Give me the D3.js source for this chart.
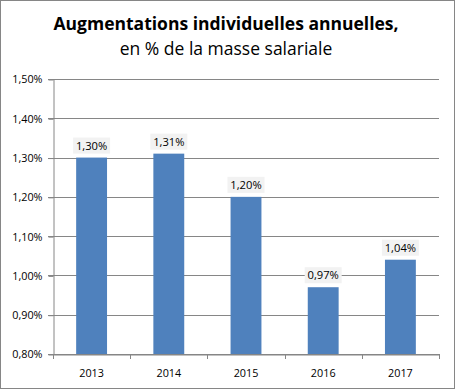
<!DOCTYPE html>
<html>
<head>
<meta charset="utf-8">
<script src="https://cdn.jsdelivr.net/npm/d3@7"></script>
<style>
  body { margin: 0; background: #fff; }
  svg { display: block; font-family: "Open Sans", "DejaVu Sans", sans-serif; }
</style>
</head>
<body>
<div id="chart"></div>
<script>
// chart data
const years = ["2013", "2014", "2015", "2016", "2017"];
const values = [1.30, 1.31, 1.20, 0.97, 1.04];
const yTicks = [0.80, 0.90, 1.00, 1.10, 1.20, 1.30, 1.40, 1.50];
const titleLines = ["Augmentations individuelles annuelles,", "en % de la masse salariale"];

const width = 455, height = 389;
const plot = { left: 53, right: 439, top: 79, bottom: 354 };

const fmt = v => v.toFixed(2).replace(".", ",") + "%";

const svg = d3.select("#chart").append("svg")
  .attr("width", width)
  .attr("height", height);

// outer frame
svg.append("rect")
  .attr("x", 0.5).attr("y", 0.5)
  .attr("width", width - 1).attr("height", height - 1)
  .attr("fill", "#fff")
  .attr("stroke", "#868686");

// title
svg.append("text")
  .attr("x", 226).attr("y", 30)
  .attr("text-anchor", "middle")
  .attr("font-size", 17.5)
  .attr("font-weight", "bold")
  .attr("fill", "#000")
  .text(titleLines[0]);

svg.append("text")
  .attr("x", 226).attr("y", 55)
  .attr("text-anchor", "middle")
  .attr("font-size", 17.5)
  .attr("fill", "#000")
  .text(titleLines[1]);

const x = d3.scaleBand()
  .domain(years)
  .range([plot.left, plot.right])
  .paddingInner(0.6)
  .paddingOuter(0.3);

const y = d3.scaleLinear()
  .domain([0.80, 1.50])
  .range([plot.bottom, plot.top]);

// gridlines
svg.append("g")
  .selectAll("line")
  .data(yTicks)
  .join("line")
  .attr("x1", plot.left - 5)
  .attr("x2", plot.right)
  .attr("y1", d => Math.round(y(d)) + 0.5)
  .attr("y2", d => Math.round(y(d)) + 0.5)
  .attr("stroke", "#868686");

// y axis
const yAxis = svg.append("g")
  .attr("transform", `translate(${plot.left + 0.5},0.5)`)
  .call(d3.axisLeft(y).tickValues(yTicks).tickFormat(fmt).tickSize(5).tickSizeOuter(0));
yAxis.select(".domain").attr("stroke", "#868686");
yAxis.selectAll(".tick line").attr("stroke", "#868686");
yAxis.selectAll(".tick text")
  .attr("x", -11)
  .attr("font-family", "Open Sans, sans-serif")
  .attr("font-size", 10.8)
  .attr("fill", "#000");

// x axis
const xAxis = svg.append("g")
  .attr("transform", `translate(0,${plot.bottom + 0.5})`)
  .call(d3.axisBottom(x).tickSize(0).tickSizeOuter(0));
xAxis.select(".domain").attr("stroke", "#868686");
xAxis.selectAll(".tick text")
  .attr("y", 15)
  .attr("font-family", "Open Sans, sans-serif")
  .attr("font-size", 10.8)
  .attr("fill", "#000");

// category boundary ticks
const step = x.step();
svg.append("g")
  .selectAll("line")
  .data(d3.range(years.length + 1))
  .join("line")
  .attr("x1", i => Math.round(plot.left + i * step) + 0.5)
  .attr("x2", i => Math.round(plot.left + i * step) + 0.5)
  .attr("y1", plot.bottom)
  .attr("y2", plot.bottom + 5)
  .attr("stroke", "#868686");

// bars
svg.append("g")
  .selectAll("rect")
  .data(values)
  .join("rect")
  .attr("x", (d, i) => x(years[i]))
  .attr("y", d => y(d))
  .attr("width", x.bandwidth())
  .attr("height", d => plot.bottom - y(d))
  .attr("fill", "#4f81bd");

// data labels
const labels = svg.append("g")
  .selectAll("g")
  .data(values)
  .join("g")
  .attr("transform", (d, i) => `translate(${x(years[i]) + x.bandwidth() / 2},${y(d) - 4})`);

labels.append("rect")
  .attr("x", -18.5)
  .attr("y", -16)
  .attr("width", 37)
  .attr("height", 16)
  .attr("fill", "#f2f2f2");

labels.append("text")
  .attr("y", -4)
  .attr("text-anchor", "middle")
  .attr("font-size", 11.2)
  .attr("fill", "#000")
  .text(d => fmt(d));
</script>
</body>
</html>
